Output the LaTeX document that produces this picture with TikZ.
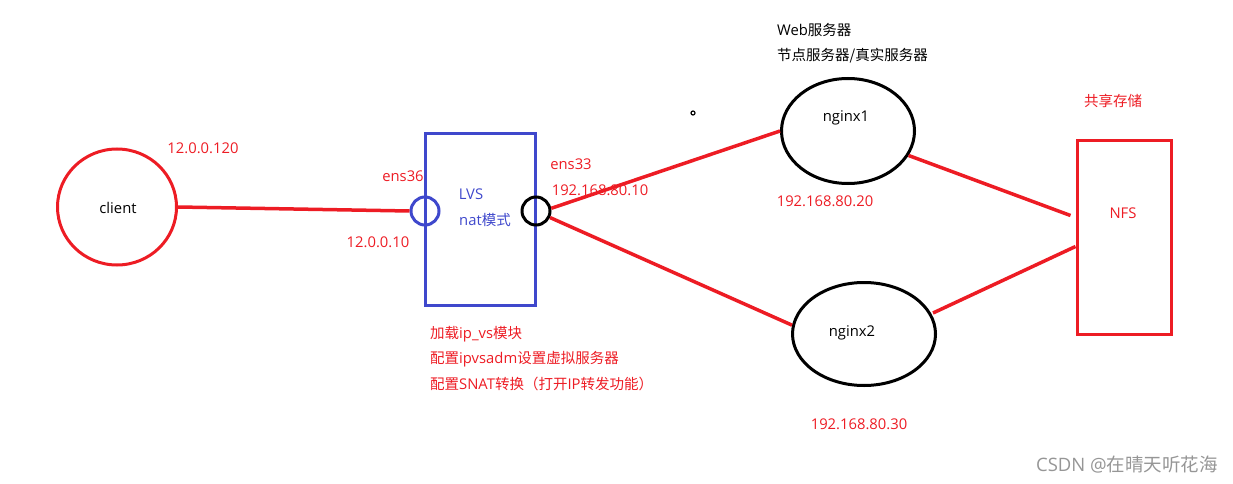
\documentclass[tikz,border=0pt]{standalone}
\usepackage{fontspec}
\setmainfont{Open Sans}
\newfontfamily\cjk{Noto Sans CJK SC}
\usetikzlibrary{shapes.geometric,calc}
\definecolor{pred}{RGB}{237,28,36}
\definecolor{pblue}{RGB}{63,72,204}
\definecolor{wm}{RGB}{150,150,150}
\newcommand{\zh}[1]{{\cjk\fontsize{14.5}{16}\selectfont #1}}
\tikzset{
  lbl/.style={font=\fontsize{14.8}{16}\selectfont, inner sep=0pt},
  rlbl/.style={lbl, text=pred},
  blbl/.style={lbl, text=pblue},
  klbl/.style={lbl, text=black},
  ell/.style={ellipse, draw, line width=3pt, inner sep=0pt},
  port/.style={circle, draw, line width=3pt, minimum size=28pt, inner sep=0pt},
  wire/.style={draw=pred, line width=3.5pt},
}
\begin{document}
\begin{tikzpicture}[x=1pt,y=-1pt]
\useasboundingbox (0,0) rectangle (1233,484);
% client
\node[ell, draw=pred, minimum width=119pt, minimum height=116pt] (client) at (117,207) {};
\node[klbl] (clientt) at (118,208) {client};
\node[rlbl] (ipc) at (203,148) {12.0.0.120};
% LVS box
\node[draw=pblue, line width=3pt, minimum width=110pt, minimum height=172pt, inner sep=0pt] (lvs) at (480,219) {};
\node[blbl] (lvst) at (471,194) {LVS};
\node[blbl] (natt) at (485,220) {nat\zh{模式}};
\node[port, draw=pblue] (bc) at (425,211) {};
\node[port, draw=black] (kc) at (536,211) {};
\node[rlbl] (e36) at (403,176) {ens36};
\node[rlbl] (ip10) at (378,242) {12.0.0.10};
\node[rlbl] (e33) at (571,164) {ens33};
\node[rlbl] (ip8010) at (600,190) {192.168.80.10};
% nginx
\node[ell, minimum width=133pt, minimum height=105pt] (n1) at (848,131) {};
\node[klbl] (n1t) at (846,118) {nginx1};
\node[ell, minimum width=143pt, minimum height=103pt] (n2) at (864,334) {};
\node[klbl] (n2t) at (852,333) {nginx2};
\node[rlbl] (ip20) at (825,201) {192.168.80.20};
\node[rlbl] (ip30) at (859,424) {192.168.80.30};
\node[klbl, anchor=west] (web) at (777,30) {Web\zh{服务器}};
\node[klbl, anchor=west] (real) at (777,56) {\zh{节点服务器/真实服务器}};
% NFS
\node[draw=pred, line width=3pt, minimum width=94pt, minimum height=194pt, inner sep=0pt] (nfs) at (1124,237) {};
\node[rlbl] (nfst) at (1123,213) {NFS};
\node[rlbl] (share) at (1113,101) {\zh{共享存储}};
% connectors
\draw[wire] (client.east) -- (bc.west);
\draw[wire] (kc.10) -- (n1.west);
\draw[wire] (kc.-25) -- (n2.173);
\coordinate (nfsa) at ($(nfs.north west)+(-5,77)$);
\coordinate (nfsb) at ($(nfs.north west)+(0,108)$);
\coordinate (n2p) at ($(n2.center)+(69,-21)$);
\draw[wire] (n1.-22) -- (nfsa);
\draw[wire] (nfsb) -- (n2p);
% dot
\node[circle, draw=black, line width=1.2pt, minimum size=4pt, inner sep=0pt] (dot) at (693,113) {};
% notes
\node[rlbl, anchor=west] (note1) at (430,334) {\zh{加载}ip\_vs\zh{模块}};
\node[rlbl, anchor=west] (note2) at (430,359) {\zh{配置}ipvsadm\zh{设置虚拟服务器}};
\node[rlbl, anchor=west] (note3) at (430,384) {\zh{配置}SNAT\zh{转换（打开}IP\zh{转发功能）}};
% watermark
\node[lbl, text=wm, anchor=east, font=\fontsize{18.5}{20}\selectfont] (wmk) at (1218,465) {CSDN @{\cjk 在晴天听花海}};
\end{tikzpicture}
\end{document}
